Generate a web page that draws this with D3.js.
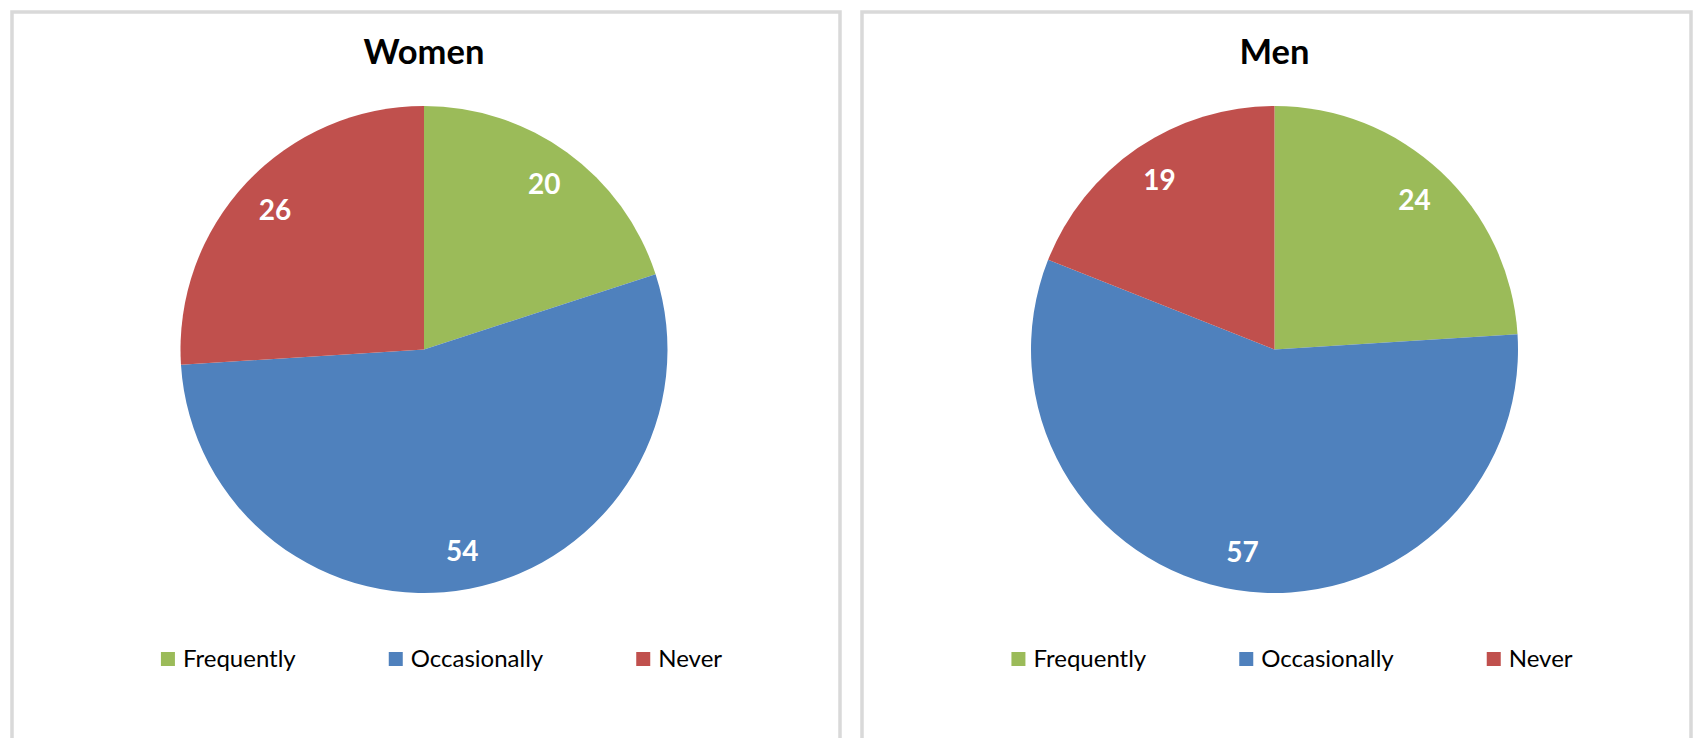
<!DOCTYPE html>
<html>
<head>
<meta charset="utf-8">
<script src="https://cdn.jsdelivr.net/npm/d3@7"></script>
<style>
  html, body { margin: 0; padding: 0; background: #fff; }
  svg { display: block; }
  text { font-family: Lato, "Open Sans", sans-serif; }
</style>
</head>
<body>
<svg id="chart" width="1694" height="738"></svg>
<script>
// Survey answers, by gender
const categories = ["Frequently", "Occasionally", "Never"];
const colors = ["#9BBB59", "#4F81BD", "#C0504D"];
const womenValues = [20, 54, 26];
const menValues = [24, 57, 19];
const panelTitles = ["Women", "Men"];

const panels = [
  { title: panelTitles[0], values: womenValues, x0: 12, x1: 840 },
  { title: panelTitles[1], values: menValues, x0: 862, x1: 1691 }
];

const svg = d3.select("#chart");
const color = d3.scaleOrdinal().domain(categories).range(colors);

const radius = 243.5;
const pieCy = 349.5;

const pie = d3.pie().sort(null).value(d => d.value);
const arc = d3.arc().innerRadius(0).outerRadius(radius);
const labelArc = d3.arc().innerRadius(radius * 0.84).outerRadius(radius * 0.84);

panels.forEach(p => {
  const g = svg.append("g");
  const cx = (p.x0 + p.x1) / 2 - 2;

  // panel frame (open at the bottom edge of the page)
  g.append("rect")
    .attr("x", p.x0).attr("y", 12)
    .attr("width", p.x1 - p.x0).attr("height", 760)
    .attr("fill", "#fff")
    .attr("stroke", "#d9d9d9")
    .attr("stroke-width", 3.5);

  g.append("text")
    .attr("x", cx).attr("y", 64)
    .attr("text-anchor", "middle")
    .attr("font-size", 34.5)
    .attr("font-weight", 700)
    .attr("fill", "#000")
    .text(p.title);

  const data = categories.map((c, i) => ({ category: c, value: p.values[i] }));
  const arcs = pie(data);

  const pg = g.append("g").attr("transform", `translate(${cx},${pieCy})`);
  pg.selectAll("path.slice")
    .data(arcs)
    .join("path")
    .attr("class", "slice")
    .attr("d", arc)
    .attr("fill", d => color(d.data.category));

  pg.selectAll("text.val")
    .data(arcs)
    .join("text")
    .attr("class", "val")
    .attr("transform", d => `translate(${labelArc.centroid(d)})`)
    .attr("text-anchor", "middle")
    .attr("dy", "0.36em")
    .attr("font-size", 28)
    .attr("font-weight", 700)
    .attr("fill", "#fff")
    .text(d => d.data.value);

  // legend row, laid out from measured text widths
  const lg = g.append("g");
  const items = lg.selectAll("g.item")
    .data(categories)
    .join("g")
    .attr("class", "item");
  items.append("rect")
    .attr("x", 0).attr("y", -15)
    .attr("width", 14).attr("height", 14)
    .attr("fill", d => color(d));
  items.append("text")
    .attr("x", 22).attr("y", 0)
    .attr("font-size", 24)
    .attr("fill", "#000")
    .text(d => d);

  let offset = 0;
  const gap = 93;
  items.each(function () {
    const w = d3.select(this).select("text").node().getComputedTextLength();
    d3.select(this).attr("transform", `translate(${offset},0)`);
    offset += 22 + w + gap;
  });
  const total = offset - gap;
  lg.attr("transform", `translate(${cx + 17.5 - total / 2},667)`);
});
</script>
</body>
</html>
